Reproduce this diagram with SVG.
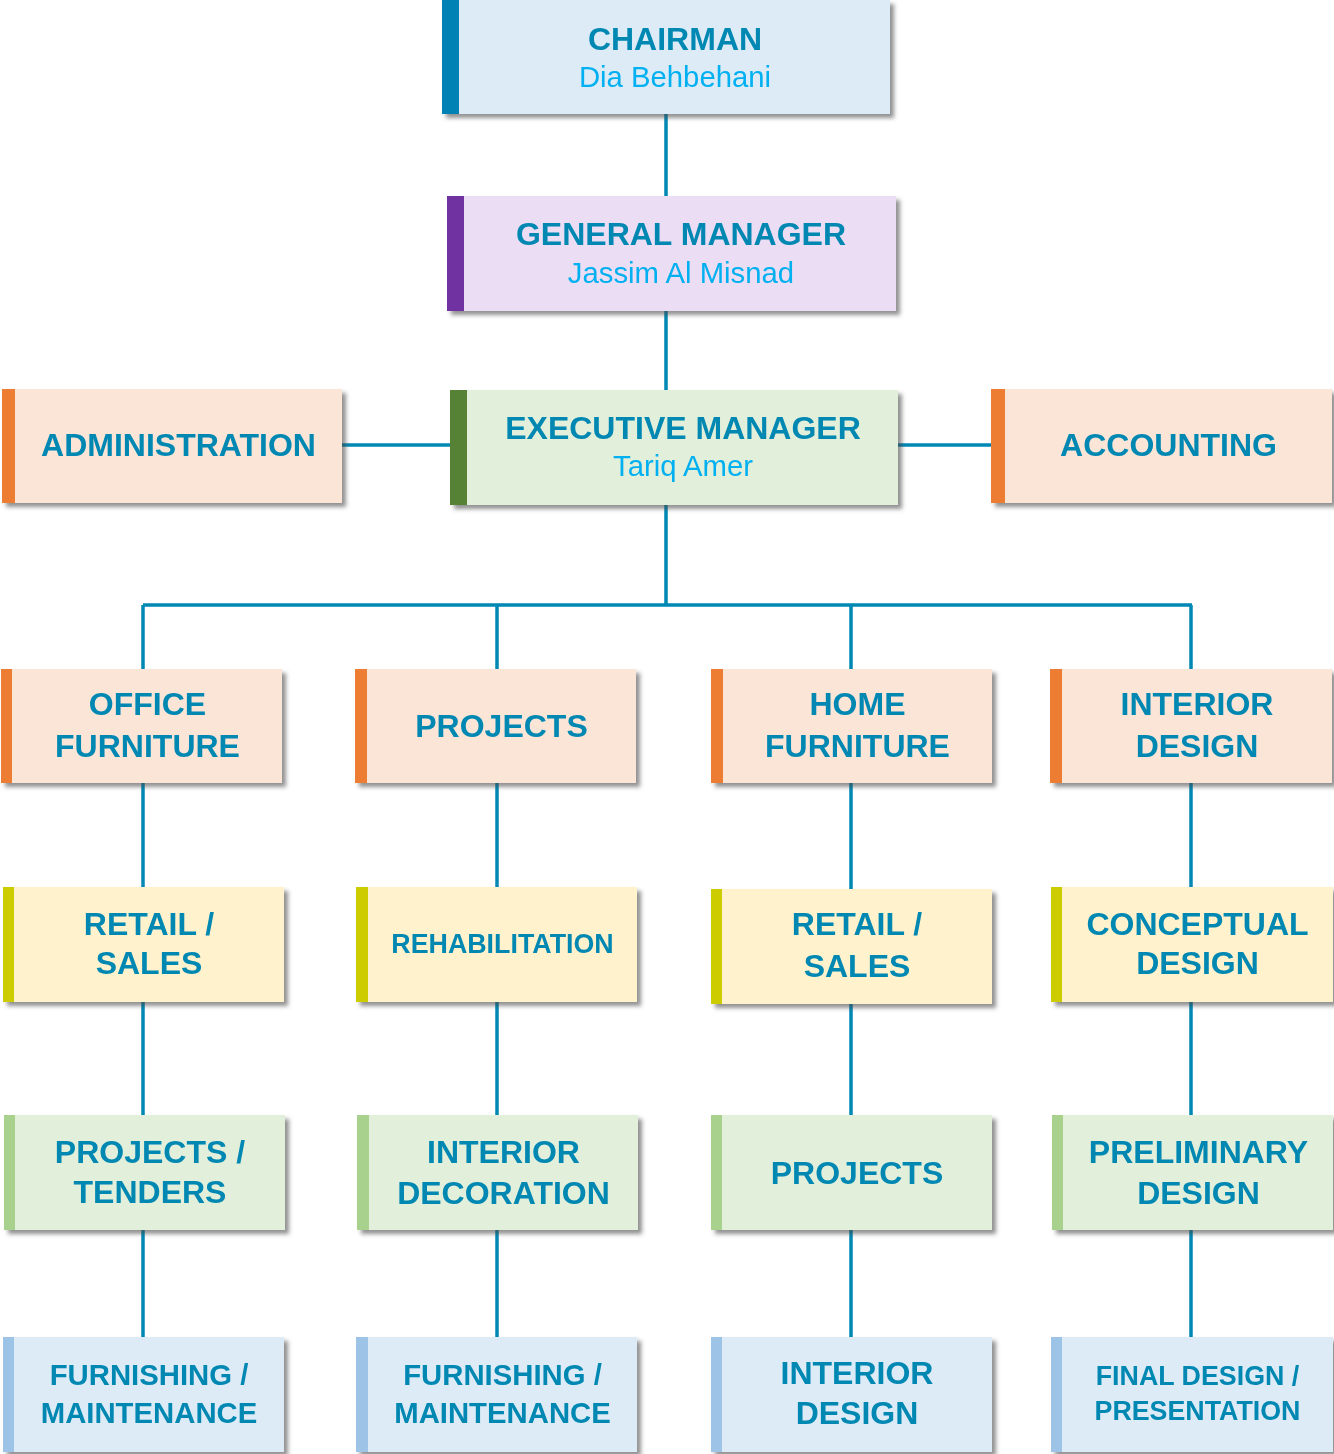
<svg xmlns="http://www.w3.org/2000/svg" width="1334" height="1454" viewBox="0 0 1334 1454">
<defs>
<filter id="sh" x="-5%" y="-5%" width="115%" height="125%">
<feDropShadow dx="4" dy="4" stdDeviation="2.2" flood-color="#4a4a4a" flood-opacity="0.6"/>
</filter>
</defs>
<style>
.t{font-family:"Liberation Sans",Arial,sans-serif;font-weight:bold;fill:#0088B3;text-anchor:middle;font-size:32px}
.n{font-family:"Liberation Sans",Arial,sans-serif;fill:#00B0F0;text-anchor:middle;font-size:29.3px}
.s{font-size:26.8px}
.m{font-size:29.3px}
.c{fill:none;stroke:#0088B5;stroke-width:3.5}
.bBlue{fill:#DDEBF7}.aBlue{fill:#0083B4}
.bPur{fill:#EBDDF3}.aPur{fill:#7030A0}
.bGrn{fill:#E2EFDA}.aGrnD{fill:#548235}.aGrnL{fill:#A9D18E}
.bOr{fill:#FAE5D7}.aOr{fill:#ED7D31}
.bYel{fill:#FFF2CC}.aYel{fill:#CCCC00}
.aBl2{fill:#9DC3E6}
</style>
<g id="connectors">
<path class="c" d="M666 114V196M666 311V390M666 505V605M342 445H450M898 445H991M143 605H1192M143 605V1337M497 605V1337M851 605V1337M1191 605V1337"/>
</g>
<g id="chairman" filter="url(#sh)">
<rect class="aBlue" x="442" y="0" width="17" height="114"/>
<rect class="bBlue" x="459" y="0" width="431" height="114"/>
<text class="t" x="675" y="50">CHAIRMAN</text>
<text class="n" x="675" y="87">Dia Behbehani</text>
</g>
<g id="general-manager" filter="url(#sh)">
<rect class="aPur" x="447" y="196" width="17" height="115"/>
<rect class="bPur" x="464" y="196" width="432" height="115"/>
<text class="t" x="681" y="245">GENERAL MANAGER</text>
<text class="n" x="681" y="283">Jassim Al Misnad</text>
</g>
<g id="executive-manager" filter="url(#sh)">
<rect class="aGrnD" x="450" y="390" width="17" height="115"/>
<rect class="bGrn" x="467" y="390" width="431" height="115"/>
<text class="t" x="683" y="439">EXECUTIVE MANAGER</text>
<text class="n" x="683" y="476">Tariq Amer</text>
</g>
<g id="administration" filter="url(#sh)">
<rect class="aOr" x="2" y="389" width="13" height="114"/>
<rect class="bOr" x="15" y="389" width="327" height="114"/>
<text class="t" x="178.5" y="456">ADMINISTRATION</text>
</g>
<g id="accounting" filter="url(#sh)">
<rect class="aOr" x="991" y="389" width="14" height="114"/>
<rect class="bOr" x="1005" y="389" width="327" height="114"/>
<text class="t" x="1168.5" y="456">ACCOUNTING</text>
</g>
<g id="office-furniture" filter="url(#sh)">
<rect class="aOr" x="1" y="669" width="11" height="114"/>
<rect class="bOr" x="12" y="669" width="270" height="114"/>
<text class="t" x="147.5" y="715">OFFICE</text>
<text class="t" x="147.5" y="757">FURNITURE</text>
</g>
<g id="projects" filter="url(#sh)">
<rect class="aOr" x="355" y="669" width="12" height="114"/>
<rect class="bOr" x="367" y="669" width="269" height="114"/>
<text class="t" x="501.5" y="737">PROJECTS</text>
</g>
<g id="home-furniture" filter="url(#sh)">
<rect class="aOr" x="711" y="669" width="12" height="114"/>
<rect class="bOr" x="723" y="669" width="269" height="114"/>
<text class="t" x="857.5" y="715">HOME</text>
<text class="t" x="857.5" y="757">FURNITURE</text>
</g>
<g id="interior-design" filter="url(#sh)">
<rect class="aOr" x="1050" y="669" width="12" height="114"/>
<rect class="bOr" x="1062" y="669" width="270" height="114"/>
<text class="t" x="1197" y="715">INTERIOR</text>
<text class="t" x="1197" y="757">DESIGN</text>
</g>
<g id="retail-sales-1" filter="url(#sh)">
<rect class="aYel" x="3" y="887" width="11" height="115"/>
<rect class="bYel" x="14" y="887" width="270" height="115"/>
<text class="t" x="149" y="935">RETAIL /</text>
<text class="t" x="149" y="974">SALES</text>
</g>
<g id="rehabilitation" filter="url(#sh)">
<rect class="aYel" x="356" y="887" width="12" height="115"/>
<rect class="bYel" x="368" y="887" width="269" height="115"/>
<text class="t s" x="502.5" y="953">REHABILITATION</text>
</g>
<g id="retail-sales-2" filter="url(#sh)">
<rect class="aYel" x="711" y="889" width="11" height="115"/>
<rect class="bYel" x="722" y="889" width="270" height="115"/>
<text class="t" x="857" y="935">RETAIL /</text>
<text class="t" x="857" y="977">SALES</text>
</g>
<g id="conceptual-design" filter="url(#sh)">
<rect class="aYel" x="1051" y="887" width="11" height="115"/>
<rect class="bYel" x="1062" y="887" width="271" height="115"/>
<text class="t" x="1197.5" y="935">CONCEPTUAL</text>
<text class="t" x="1197.5" y="974">DESIGN</text>
</g>
<g id="projects-tenders" filter="url(#sh)">
<rect class="aGrnL" x="4" y="1115" width="11" height="115"/>
<rect class="bGrn" x="15" y="1115" width="270" height="115"/>
<text class="t" x="150" y="1163">PROJECTS /</text>
<text class="t" x="150" y="1203">TENDERS</text>
</g>
<g id="interior-decoration" filter="url(#sh)">
<rect class="aGrnL" x="357" y="1115" width="12" height="115"/>
<rect class="bGrn" x="369" y="1115" width="269" height="115"/>
<text class="t" x="503.5" y="1163">INTERIOR</text>
<text class="t" x="503.5" y="1204">DECORATION</text>
</g>
<g id="projects-2" filter="url(#sh)">
<rect class="aGrnL" x="711" y="1115" width="11" height="115"/>
<rect class="bGrn" x="722" y="1115" width="270" height="115"/>
<text class="t" x="857" y="1184">PROJECTS</text>
</g>
<g id="preliminary-design" filter="url(#sh)">
<rect class="aGrnL" x="1052" y="1115" width="11" height="115"/>
<rect class="bGrn" x="1063" y="1115" width="270" height="115"/>
<text class="t" x="1198.5" y="1163">PRELIMINARY</text>
<text class="t" x="1198.5" y="1204">DESIGN</text>
</g>
<g id="furnishing-maintenance-1" filter="url(#sh)">
<rect class="aBl2" x="3" y="1337" width="11" height="115"/>
<rect class="bBlue" x="14" y="1337" width="270" height="115"/>
<text class="t m" x="149" y="1385">FURNISHING /</text>
<text class="t m" x="149" y="1423">MAINTENANCE</text>
</g>
<g id="furnishing-maintenance-2" filter="url(#sh)">
<rect class="aBl2" x="356" y="1337" width="12" height="115"/>
<rect class="bBlue" x="368" y="1337" width="269" height="115"/>
<text class="t m" x="502.5" y="1385">FURNISHING /</text>
<text class="t m" x="502.5" y="1423">MAINTENANCE</text>
</g>
<g id="interior-design-2" filter="url(#sh)">
<rect class="aBl2" x="711" y="1337" width="11" height="115"/>
<rect class="bBlue" x="722" y="1337" width="270" height="115"/>
<text class="t" x="857" y="1384">INTERIOR</text>
<text class="t" x="857" y="1424">DESIGN</text>
</g>
<g id="final-design-presentation" filter="url(#sh)">
<rect class="aBl2" x="1051" y="1337" width="11" height="115"/>
<rect class="bBlue" x="1062" y="1337" width="271" height="115"/>
<text class="t s" x="1197.5" y="1385">FINAL DESIGN /</text>
<text class="t s" x="1197.5" y="1420">PRESENTATION</text>
</g>
</svg>
